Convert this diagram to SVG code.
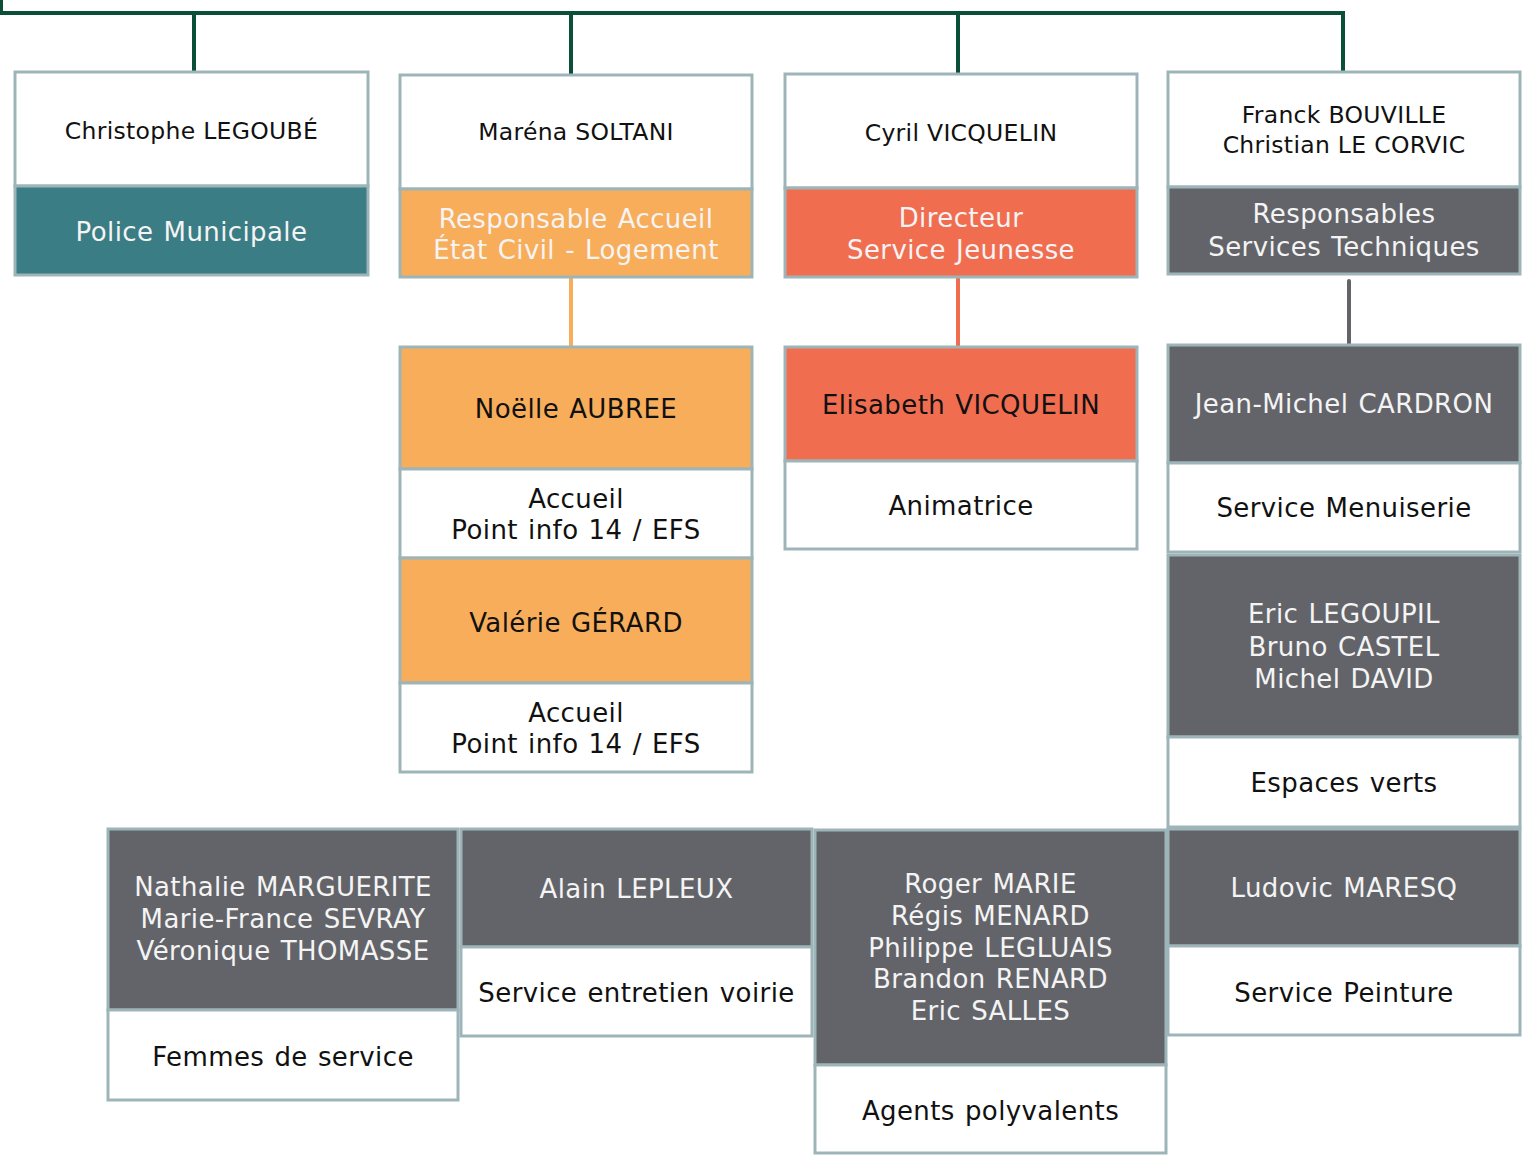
<svg xmlns="http://www.w3.org/2000/svg" width="1525" height="1158" viewBox="0 0 1525 1158">
<style>
  text { font-family: "DejaVu Sans", Verdana, sans-serif; text-anchor: middle; }
  .b { stroke: #9db5b9; stroke-width: 3; }
  .w { fill: #ffffff; }
  .teal { fill: #3a7d85; }
  .org { fill: #f8ad5b; }
  .red { fill: #f16d50; }
  .gry { fill: #636469; }
  .top { font-size: 23.5px; fill: #111111; letter-spacing: 0.3px; }
  .dk { font-size: 26px; fill: #111111; letter-spacing: 0.4px; word-spacing: 1.5px; }
  .lt { font-size: 26px; fill: #f4f4f4; letter-spacing: 0.4px; word-spacing: 1.5px; }
  .conn { fill: none; stroke-width: 4; }
</style>
<rect width="1525" height="1158" fill="#ffffff"/>
<g id="connectors">
  <path class="conn" stroke="#0b4f38" d="M1,0 V13 H1343 V72 M194,13 V72 M571,13 V75 M958,13 V75"/>
  <path class="conn" stroke="#f8ad5b" d="M571,277 V347"/>
  <path class="conn" stroke="#f16d50" d="M958,277 V347"/>
  <path class="conn" stroke="#636469" stroke-linecap="round" d="M1349,281 V344"/>
</g>
<g id="node-legoube">
  <rect class="b w" x="15" y="72" width="353" height="114"/>
  <rect class="b teal" x="15" y="186" width="353" height="89"/>
  <text class="top" x="191.5" y="139">Christophe LEGOUBÉ</text>
  <text class="lt" x="191.5" y="241">Police Municipale</text>
</g>
<g id="node-soltani">
  <rect class="b w" x="400" y="75" width="352" height="114"/>
  <rect class="b org" x="400" y="189" width="352" height="88"/>
  <text class="top" x="576" y="140">Maréna SOLTANI</text>
  <text class="lt" x="576" y="228">Responsable Accueil</text>
  <text class="lt" x="576" y="259">État Civil - Logement</text>
</g>
<g id="node-cyril">
  <rect class="b w" x="785" y="74" width="352" height="114"/>
  <rect class="b red" x="785" y="188" width="352" height="89"/>
  <text class="top" x="961" y="141">Cyril VICQUELIN</text>
  <text class="lt" x="961" y="227">Directeur</text>
  <text class="lt" x="961" y="259">Service Jeunesse</text>
</g>
<g id="node-bouville">
  <rect class="b w" x="1168" y="72" width="352" height="115"/>
  <rect class="b gry" x="1168" y="187" width="352" height="87"/>
  <text class="top" x="1344" y="123">Franck BOUVILLE</text>
  <text class="top" x="1344" y="153">Christian LE CORVIC</text>
  <text class="lt" x="1344" y="223">Responsables</text>
  <text class="lt" x="1344" y="256">Services Techniques</text>
</g>
<g id="node-aubree">
  <rect class="b org" x="400" y="347" width="352" height="122"/>
  <rect class="b w" x="400" y="469" width="352" height="89"/>
  <text class="dk" x="576" y="418">Noëlle AUBREE</text>
  <text class="dk" x="576" y="508">Accueil</text>
  <text class="dk" x="576" y="539">Point info 14 / EFS</text>
</g>
<g id="node-gerard">
  <rect class="b org" x="400" y="558" width="352" height="125"/>
  <rect class="b w" x="400" y="683" width="352" height="89"/>
  <text class="dk" x="576" y="632">Valérie GÉRARD</text>
  <text class="dk" x="576" y="722">Accueil</text>
  <text class="dk" x="576" y="753">Point info 14 / EFS</text>
</g>
<g id="node-elisabeth">
  <rect class="b red" x="785" y="347" width="352" height="114"/>
  <rect class="b w" x="785" y="461" width="352" height="88"/>
  <text class="dk" x="961" y="414">Elisabeth VICQUELIN</text>
  <text class="dk" x="961" y="515">Animatrice</text>
</g>
<g id="node-cardron">
  <rect class="b gry" x="1168" y="345" width="352" height="118"/>
  <rect class="b w" x="1168" y="463" width="352" height="89"/>
  <text class="lt" x="1344" y="413">Jean-Michel CARDRON</text>
  <text class="dk" x="1344" y="517">Service Menuiserie</text>
</g>
<g id="node-legoupil">
  <rect class="b gry" x="1168" y="555" width="352" height="182"/>
  <rect class="b w" x="1168" y="737" width="352" height="90"/>
  <text class="lt" x="1344" y="623">Eric LEGOUPIL</text>
  <text class="lt" x="1344" y="656">Bruno CASTEL</text>
  <text class="lt" x="1344" y="688">Michel DAVID</text>
  <text class="dk" x="1344" y="792">Espaces verts</text>
</g>
<g id="node-maresq">
  <rect class="b gry" x="1168" y="829" width="352" height="117"/>
  <rect class="b w" x="1168" y="946" width="352" height="89"/>
  <text class="lt" x="1344" y="897">Ludovic MARESQ</text>
  <text class="dk" x="1344" y="1002">Service Peinture</text>
</g>
<g id="node-marguerite">
  <rect class="b gry" x="108" y="829" width="350" height="181"/>
  <rect class="b w" x="108" y="1010" width="350" height="90"/>
  <text class="lt" x="283" y="896">Nathalie MARGUERITE</text>
  <text class="lt" x="283" y="928">Marie-France SEVRAY</text>
  <text class="lt" x="283" y="960">Véronique THOMASSE</text>
  <text class="dk" x="283" y="1066">Femmes de service</text>
</g>
<g id="node-lepleux">
  <rect class="b gry" x="461" y="829" width="351" height="118"/>
  <rect class="b w" x="461" y="947" width="351" height="89"/>
  <text class="lt" x="636.5" y="898">Alain LEPLEUX</text>
  <text class="dk" x="636.5" y="1002">Service entretien voirie</text>
</g>
<g id="node-marie">
  <rect class="b gry" x="815" y="830" width="351" height="235"/>
  <rect class="b w" x="815" y="1065" width="351" height="88"/>
  <text class="lt" x="990.5" y="893">Roger MARIE</text>
  <text class="lt" x="990.5" y="925">Régis MENARD</text>
  <text class="lt" x="990.5" y="957">Philippe LEGLUAIS</text>
  <text class="lt" x="990.5" y="988">Brandon RENARD</text>
  <text class="lt" x="990.5" y="1020">Eric SALLES</text>
  <text class="dk" x="990.5" y="1120">Agents polyvalents</text>
</g>
</svg>
